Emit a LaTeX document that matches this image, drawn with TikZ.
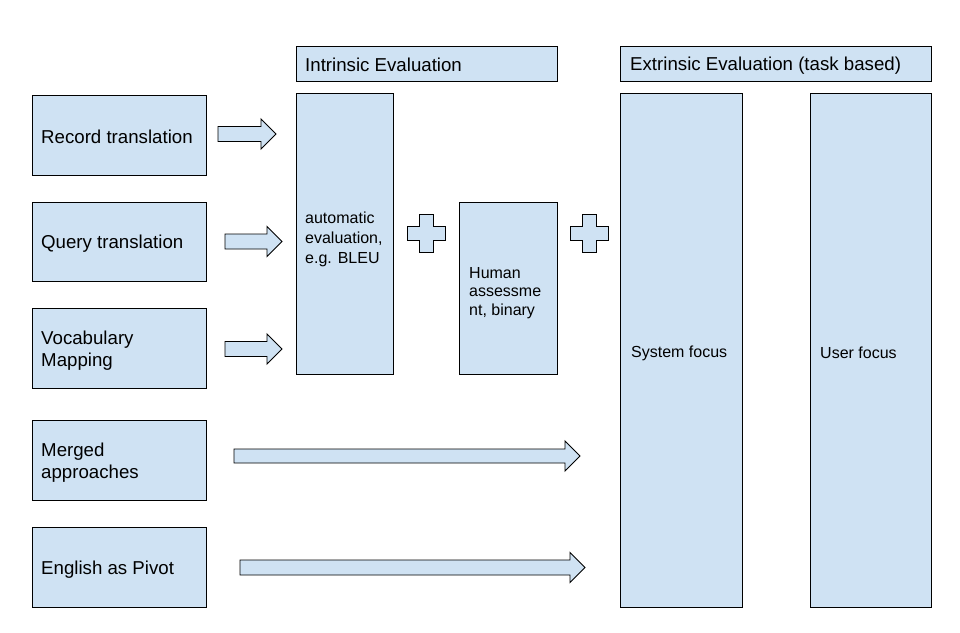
\documentclass[tikz,border=0pt]{standalone}
\usepackage{fontspec}
\setmainfont{Liberation Sans}
\definecolor{boxblue}{HTML}{CFE2F3}
\tikzset{
  box/.style={draw=black, fill=boxblue, line width=0.9pt, inner sep=0pt},
  lbl/.style={anchor=west, align=left, inner sep=0pt, font=\fontsize{18.67}{22}\selectfont},
  slbl/.style={anchor=west, align=left, inner sep=0pt, font=\fontsize{16}{20}\selectfont},
  shape fill/.style={draw=black, fill=boxblue, line width=0.9pt, line join=miter},
}
% horizontal block arrow: x1, x2 (tip), yc, shaft half height, head half height, head length
\newcommand{\blockarrow}[6]{%
  \filldraw[shape fill] (#1,#3-#4) -- (#2-#6,#3-#4) -- (#2-#6,#3-#5) -- (#2,#3)
    -- (#2-#6,#3+#5) -- (#2-#6,#3+#4) -- (#1,#3+#4) -- cycle;}
% plus sign: cx, cy, half extent, arm half width
\newcommand{\plussign}[4]{%
  \filldraw[shape fill] (#1-#4,#2-#3) -- (#1+#4,#2-#3) -- (#1+#4,#2-#4) -- (#1+#3,#2-#4)
    -- (#1+#3,#2+#4) -- (#1+#4,#2+#4) -- (#1+#4,#2+#3) -- (#1-#4,#2+#3)
    -- (#1-#4,#2+#4) -- (#1-#3,#2+#4) -- (#1-#3,#2-#4) -- (#1-#4,#2-#4) -- cycle;}
\begin{document}
\begin{tikzpicture}[x=1pt,y=-1pt]
\useasboundingbox (0,0) rectangle (960,632);
\fill[white] (0,0) rectangle (960,632);

% left boxes
\node[box, minimum width=174, minimum height=80] (rec) at (119,135) {};
\node[lbl] (rect) at (41,136.5) {Record translation};
\node[box, minimum width=174, minimum height=79] (qry) at (119,241.5) {};
\node[lbl] (qryt) at (41,244) {Query translation};
\node[box, minimum width=174, minimum height=80] (voc) at (119,348) {};
\node[lbl] (voct) at (41,351) {Vocabulary\\Mapping};
\node[box, minimum width=174, minimum height=80] (mrg) at (119,460) {};
\node[lbl] (mrgt) at (41,463) {Merged\\approaches};
\node[box, minimum width=174, minimum height=80] (eng) at (119,567) {};
\node[lbl] (engt) at (41,569.5) {English as Pivot};

% intrinsic
\node[box, minimum width=261, minimum height=35] (intr) at (426.5,63.5) {};
\node[lbl] (intrt) at (305,65) {Intrinsic Evaluation};
\node[box, minimum width=97, minimum height=281] (auto) at (344.5,233.5) {};
\node[slbl] (autot) at (305,239) {automatic\\evaluation,\\e.g. BLEU};
\node[box, minimum width=98, minimum height=172] (hum) at (508,288) {};
\node[slbl, font=\fontsize{16}{18.5}\selectfont] (humt) at (469,293) {Human\\assessme\\nt, binary};

% extrinsic
\node[box, minimum width=311, minimum height=35] (extr) at (775.5,63.5) {};
\node[lbl] (extrt) at (630,66) {Extrinsic Evaluation (task based)};
\node[box, minimum width=122, minimum height=514] (sys) at (681,350) {};
\node[slbl] (syst) at (631,353) {System focus};
\node[box, minimum width=121, minimum height=514] (usr) at (870.5,350) {};
\node[slbl] (usrt) at (820,353) {User focus};

% arrows
\blockarrow{218}{276}{134}{7.5}{15}{15}
\blockarrow{225}{282}{241.5}{7.5}{15}{15}
\blockarrow{225}{282}{349}{7.5}{15}{15}
\blockarrow{234}{580}{456}{7}{15}{15}
\blockarrow{240}{585}{567.5}{7.5}{15}{15}

% plus signs
\plussign{426}{233.5}{19}{7}
\plussign{589}{233.5}{19}{7}
\end{tikzpicture}
\end{document}
